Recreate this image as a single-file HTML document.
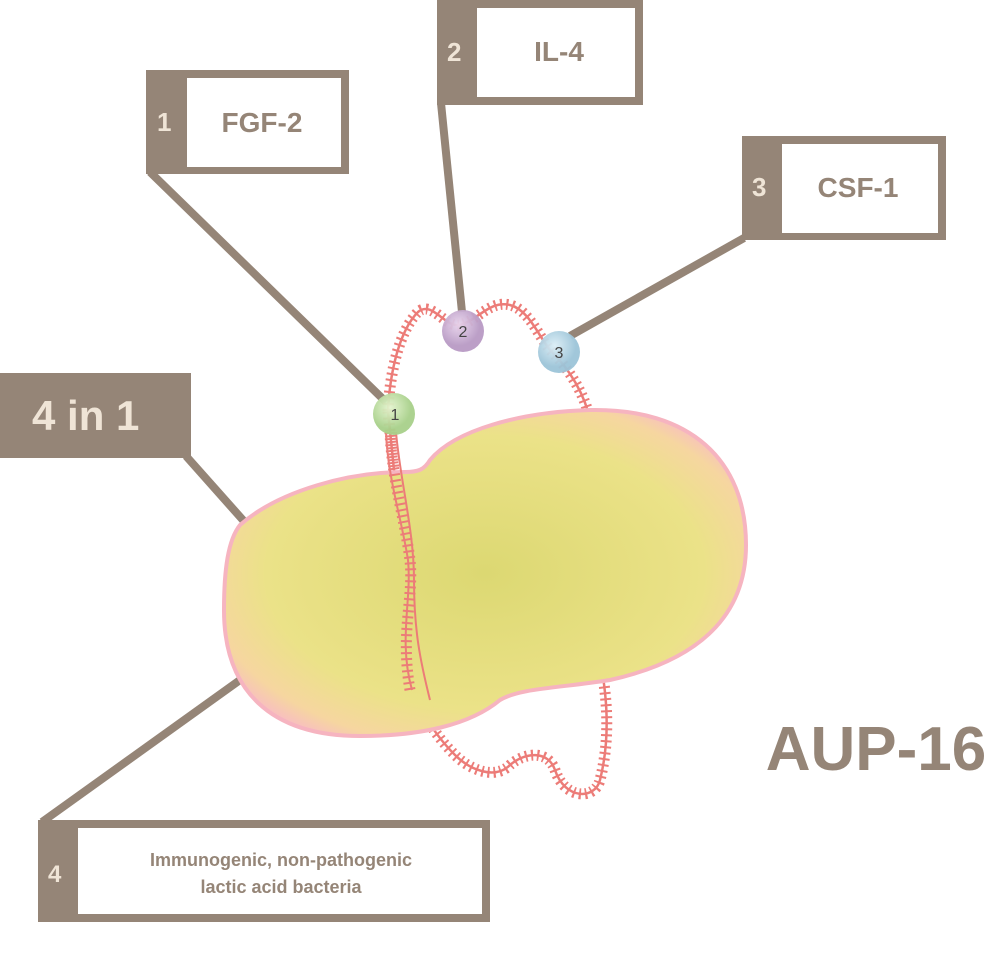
<!DOCTYPE html>
<html><head><meta charset="utf-8"><style>
html,body{margin:0;padding:0;background:#fff;}
svg{display:block;}
</style></head><body>
<svg width="993" height="954" viewBox="0 0 993 954" xmlns="http://www.w3.org/2000/svg" font-family="Liberation Sans, sans-serif">
<defs>
<radialGradient id="bodyg" cx="0.5" cy="0.5" r="0.6">
<stop offset="0" stop-color="#dcd872"/>
<stop offset="0.7" stop-color="#ebe288"/>
<stop offset="0.9" stop-color="#f6d6a0"/>
<stop offset="1" stop-color="#f8bcc4"/>
</radialGradient>
<radialGradient id="b1" cx="0.4" cy="0.35"><stop offset="0" stop-color="#e4f4cf"/><stop offset="1" stop-color="#a8d08a"/></radialGradient>
<radialGradient id="b2" cx="0.4" cy="0.35"><stop offset="0" stop-color="#e8d4ec"/><stop offset="1" stop-color="#b89ac4"/></radialGradient>
<radialGradient id="b3" cx="0.4" cy="0.35"><stop offset="0" stop-color="#dbeef6"/><stop offset="1" stop-color="#9cc4d8"/></radialGradient>
</defs>
<g stroke="#958577" stroke-width="8" fill="none">
<line x1="150" y1="172" x2="386" y2="402"/>
<line x1="441" y1="103" x2="462" y2="312"/>
<line x1="744" y1="238" x2="570" y2="336"/>
<line x1="186" y1="456" x2="250" y2="528"/>
<line x1="42" y1="822" x2="240" y2="680"/>
</g>
<!-- DNA back -->
<g fill="none" stroke="#ec7c78">
<path id="dna" d="M388,411 C390,370 400,330 418,312 C432,300 445,328 460,325 C478,320 490,300 510,305 C530,310 540,340 552,352 C570,370 585,395 590,420 L600,660 C608,700 610,740 600,780 C595,800 565,800 555,770 C548,750 525,752 510,765 C495,780 470,770 455,755 C430,730 412,700 405,650 C400,600 415,560 395,480 Z" stroke-width="11" stroke-dasharray="2 4"/>
<path d="M388,411 C390,370 400,330 418,312 C432,300 445,328 460,325 C478,320 490,300 510,305 C530,310 540,340 552,352 C570,370 585,395 590,420 L600,660 C608,700 610,740 600,780 C595,800 565,800 555,770 C548,750 525,752 510,765 C495,780 470,770 455,755 C430,730 412,700 405,650 C400,600 415,560 395,480 Z" stroke-width="2.5"/>
</g>
<!-- body -->
<path d="M240,525 C280,490 350,472 405,472 C418,472 424,470 430,460 C455,430 520,412 590,410 C690,408 746,460 746,545 C746,615 700,660 610,680 C560,688 520,688 500,700 C470,725 420,736 360,736 C270,736 224,690 224,610 C224,570 228,540 240,525 Z" fill="url(#bodyg)" stroke="#f6b4c0" stroke-width="4"/>
<!-- DNA front -->
<g fill="none" stroke="#ec7c78">
<path d="M390,432 C392,480 405,520 410,560 C414,600 400,630 410,690" stroke-width="11" stroke-dasharray="2 4"/>
<path d="M386,432 C388,480 402,520 408,560 C412,600 398,640 412,690" stroke-width="2"/>
<path d="M396,432 C400,480 414,530 414,580 C414,630 420,660 430,700" stroke-width="2"/>
</g>
<circle cx="394" cy="414" r="21" fill="url(#b1)" opacity="0.95"/>
<circle cx="463" cy="331" r="21" fill="url(#b2)" opacity="0.95"/>
<circle cx="559" cy="352" r="21" fill="url(#b3)" opacity="0.95"/>
<g font-size="16" fill="#444" text-anchor="middle">
<text x="395" y="420">1</text><text x="463" y="337">2</text><text x="559" y="358">3</text>
</g>
<!-- boxes -->
<g fill="#958577">
<rect x="146" y="70" width="203" height="104"/>
<rect x="437" y="0" width="206" height="105"/>
<rect x="742" y="136" width="204" height="104"/>
<rect x="38" y="820" width="452" height="102"/>
<rect x="0" y="373" width="191" height="85"/>
</g>
<g fill="#fff">
<rect x="187" y="78" width="154" height="89"/>
<rect x="477" y="8" width="158" height="89"/>
<rect x="782" y="144" width="156" height="89"/>
<rect x="78" y="828" width="404" height="86"/>
</g>
<g font-weight="bold" fill="#efe4d6" font-size="26">
<text x="157" y="131">1</text>
<text x="447" y="61">2</text>
<text x="752" y="196">3</text>
<text x="48" y="882" font-size="24">4</text>
<text x="32" y="430" font-size="42">4 in 1</text>
</g>
<g font-weight="bold" fill="#958577" text-anchor="middle">
<text x="262" y="132" font-size="28">FGF-2</text>
<text x="559" y="61" font-size="28">IL-4</text>
<text x="858" y="197" font-size="28">CSF-1</text>
<text x="281" y="866" font-size="18">Immunogenic, non-pathogenic</text>
<text x="281" y="893" font-size="18">lactic acid bacteria</text>
<text x="876" y="770" font-size="62">AUP-16</text>
</g>
</svg>
</body></html>
